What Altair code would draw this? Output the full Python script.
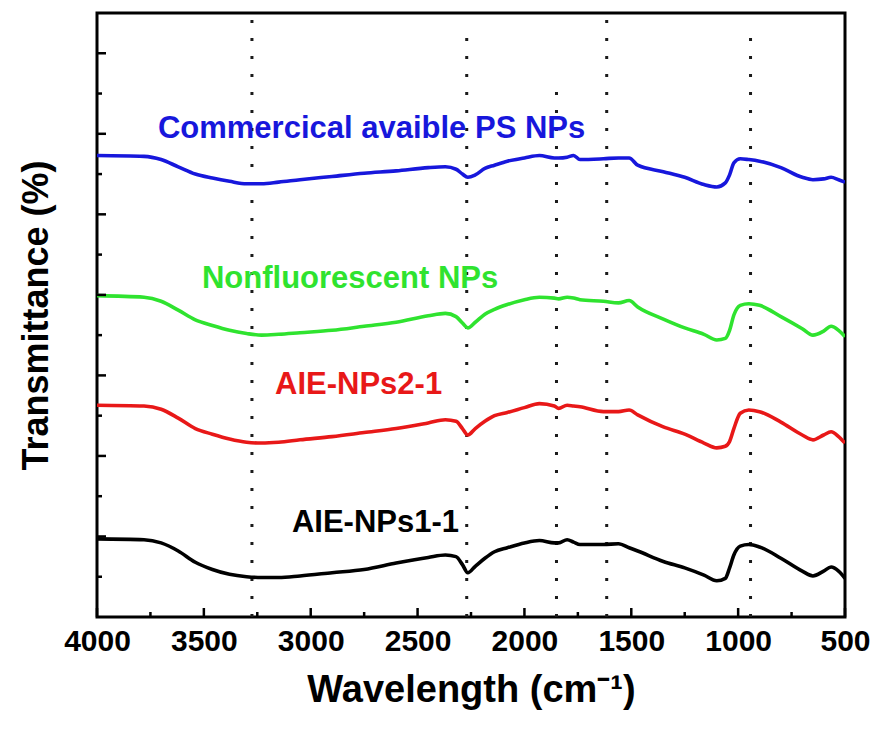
import altair as alt
import pandas as pd

# FTIR spectra, offset-stacked (arbitrary transmittance units)
wavenumber = [4000, 3780, 3700, 3620, 3540, 3460, 3380, 3300, 3230, 3150,
              3050, 2900, 2750, 2600, 2450, 2370, 2320, 2290, 2265, 2230,
              2185, 2140, 2080, 2000, 1930, 1860, 1840, 1800, 1770, 1740,
              1630, 1560, 1510, 1470, 1350, 1250, 1160, 1100, 1060, 1040,
              1020, 990, 950, 900, 800, 700, 650, 600, 565, 530, 500]

commercial_ps = [57.3, 57.2, 56.8, 55.9, 55.0, 54.5, 54.1, 53.8, 53.8, 54.0,
                 54.3, 54.7, 55.1, 55.4, 55.8, 55.9, 55.6, 55.0, 54.6, 54.9,
                 55.7, 56.1, 56.6, 57.0, 57.3, 57.0, 57.0, 57.1, 57.3, 56.8,
                 56.9, 57.0, 57.0, 56.1, 55.3, 54.6, 53.7, 53.4, 53.9, 54.9,
                 56.4, 56.9, 56.8, 56.6, 55.8, 54.6, 54.3, 54.4, 54.6, 54.3, 54.0]

nonfluorescent = [39.9, 39.7, 39.2, 38.1, 36.9, 36.2, 35.6, 35.2, 35.0, 35.1,
                  35.3, 35.6, 36.1, 36.6, 37.4, 37.7, 37.3, 36.5, 35.9, 36.6,
                  37.6, 38.2, 38.8, 39.4, 39.7, 39.6, 39.5, 39.7, 39.6, 39.4,
                  39.2, 39.0, 39.3, 38.5, 37.0, 35.9, 35.1, 34.4, 34.6, 35.6,
                  37.5, 38.7, 38.9, 38.7, 37.3, 35.8, 35.0, 35.5, 36.1, 35.6, 34.8]

aie_nps2_1 = [26.3, 26.2, 25.8, 24.7, 23.4, 22.7, 22.1, 21.7, 21.6, 21.7,
              22.0, 22.4, 22.9, 23.4, 24.1, 24.5, 24.3, 23.4, 22.6, 23.4,
              24.3, 25.0, 25.4, 26.0, 26.5, 26.2, 25.9, 26.3, 26.2, 26.1,
              25.5, 25.5, 25.7, 25.1, 23.6, 22.7, 21.6, 21.0, 21.2, 21.8,
              23.4, 25.3, 25.7, 25.5, 24.2, 22.6, 22.0, 22.6, 23.0, 22.4, 21.6]

aie_nps1_1 = [9.7, 9.6, 9.2, 8.2, 6.8, 5.9, 5.3, 5.0, 4.9, 4.9,
              5.1, 5.5, 5.9, 6.7, 7.4, 7.7, 7.5, 6.5, 5.5, 6.3,
              7.3, 8.1, 8.6, 9.2, 9.5, 9.2, 9.2, 9.6, 9.3, 9.0,
              9.0, 9.1, 8.6, 8.2, 6.9, 6.1, 5.2, 4.5, 4.8, 6.1,
              7.7, 8.8, 9.0, 8.7, 7.3, 5.7, 5.1, 5.7, 6.2, 5.7, 4.8]

series_names = ["Commercical avaible PS NPs", "Nonfluorescent NPs", "AIE-NPs2-1", "AIE-NPs1-1"]
series_colors = ["#1717dc", "#2fe32f", "#e81818", "#000000"]

# where each series name is written (left edge, baseline)
label_wn = [3715, 3509, 3167, 3088]
label_t = [59.5, 40.85, 27.7, 10.55]

# characteristic bands marked with dotted guides
band_wn = [3275, 2270, 1850, 1615, 942]
band_top = [75, 73.1, 65.7, 75, 73.1]

x_major = [4000, 3500, 3000, 2500, 2000, 1500, 1000, 500]
x_minor = [3750, 3250, 2750, 2250, 1750, 1250, 750]
y_major = [10, 20, 30, 40, 50, 60, 70]
y_minor = [5, 15, 25, 35, 45, 55, 65]

W, H = 748, 604
FONT = "Liberation Sans"

rows = []
for name, vals in zip(series_names, [commercial_ps, nonfluorescent, aie_nps2_1, aie_nps1_1]):
    for w, v in zip(wavenumber, vals):
        rows.append({"series": name, "wn": w, "T": v})
spectra = pd.DataFrame(rows)

labels = pd.DataFrame({"series": series_names, "wn": label_wn, "T": label_t})
bands = pd.DataFrame({"wn": band_wn, "T": [0] * len(band_wn), "T2": band_top})

x_scale = alt.Scale(domain=[500, 4000], reverse=True, nice=False, zero=False)
y_scale = alt.Scale(domain=[0, 75], nice=False, zero=False)
color_scale = alt.Scale(domain=series_names, range=series_colors)

x_axis = alt.Axis(values=x_major, format="d", grid=False, ticks=False, domain=False,
                  labelFont=FONT, labelFontSize=30, labelFontWeight="bold", labelColor="black",
                  labelPadding=9, labelFlush=False, labelOverlap=False,
                  title="Wavelength (cm⁻¹)", titleFont=FONT, titleFontSize=38,
                  titleFontWeight="bold", titleColor="black", titlePadding=15)
y_axis = alt.Axis(labels=False, ticks=False, domain=False, grid=False,
                  title="Transmittance (%)", titleFont=FONT, titleFontSize=36,
                  titleFontWeight="bold", titleColor="black", titlePadding=42)

X = alt.X("wn:Q", scale=x_scale, axis=x_axis)
Y = alt.Y("T:Q", scale=y_scale, axis=y_axis)

guides = alt.Chart(bands).mark_rule(
    color="#1a1a1a", strokeWidth=3, strokeDash=[3, 15]
).encode(x=X, y=Y, y2="T2:Q")

lines = alt.Chart(spectra).mark_line(strokeWidth=3.6, clip=True, interpolate="monotone").encode(
    x=X, y=Y,
    color=alt.Color("series:N", scale=color_scale, legend=None),
    detail="series:N",
)

names = alt.Chart(labels).mark_text(
    align="left", baseline="alphabetic", font=FONT, fontSize=31, fontWeight="bold"
).encode(x=X, y=Y, text="series:N",
         color=alt.Color("series:N", scale=color_scale, legend=None))

# inward tick marks on the bottom and left edges
xt_major = alt.Chart(pd.DataFrame({"wn": x_major})).mark_rule(color="black", strokeWidth=2.5).encode(
    x=X, y=alt.value(H), y2=alt.value(H - 9))
xt_minor = alt.Chart(pd.DataFrame({"wn": x_minor})).mark_rule(color="black", strokeWidth=2.5).encode(
    x=X, y=alt.value(H), y2=alt.value(H - 5))
yt_major = alt.Chart(pd.DataFrame({"T": y_major})).mark_rule(color="black", strokeWidth=2.5).encode(
    y=Y, x=alt.value(0), x2=alt.value(9))
yt_minor = alt.Chart(pd.DataFrame({"T": y_minor})).mark_rule(color="black", strokeWidth=2.5).encode(
    y=Y, x=alt.value(0), x2=alt.value(5))

chart = alt.layer(guides, lines, names, xt_major, xt_minor, yt_major, yt_minor).properties(
    width=W, height=H,
    autosize=alt.AutoSizeParams(type="none"),
    padding={"left": 97, "top": 13, "right": 31, "bottom": 115},
    background="white",
).configure_view(stroke="black", strokeWidth=3)

chart.save("out.html", embed_options={"renderer": "svg", "actions": False})
